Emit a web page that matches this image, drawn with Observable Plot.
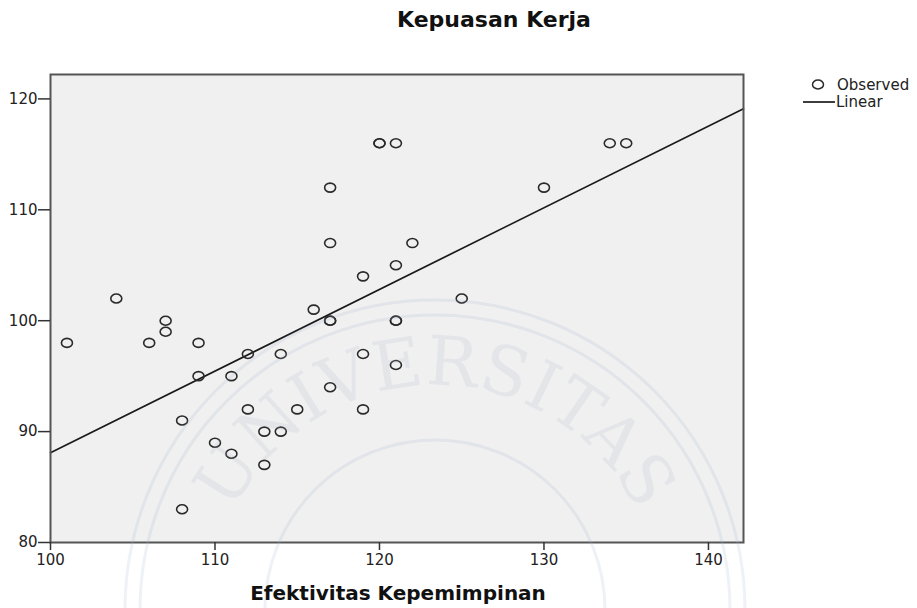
<!DOCTYPE html>
<html>
<head>
<meta charset="utf-8">
<script src="https://cdn.jsdelivr.net/npm/d3@7"></script>
<script src="https://cdn.jsdelivr.net/npm/@observablehq/plot@0.6"></script>
<style>
  html, body { margin: 0; padding: 0; background: #ffffff; }
  #wrap { position: relative; width: 917px; height: 608px; overflow: hidden; }
  #wrap > svg { position: absolute; left: 0; top: 0; }
  #overlay, #watermark { pointer-events: none; }
</style>
</head>
<body>
<div id="wrap"></div>
<script>
// ---- Data ----
const effectiveness = [101,104,106,107,107,108,108,109,109,110,111,111,112,112,113,113,114,114,115,116,
                       117,117,117,117,117,119,119,119,120,120,121,121,121,121,121,122,125,130,134,135];
const satisfaction  = [98,102,98,100,99,91,83,98,95,89,95,88,97,92,90,87,97,90,92,101,
                       112,107,100,100,94,104,97,92,116,116,116,105,100,100,96,107,102,112,116,116];
const fitIntercept = 14.5;
const fitSlope = 0.736;
const xTicks = [100, 110, 120, 130, 140];
const yTicks = [80, 90, 100, 110, 120];
const xDomain = [100, 142.13];
const yDomain = [80, 122.2];
const titleText = "Kepuasan Kerja";
const xTitle = "Efektivitas Kepemimpinan";
const legendLabels = ["Observed", "Linear"];
const watermarkText = "UNIVERSITAS";

const points = effectiveness.map((x, i) => ({x, y: satisfaction[i]}));
const fitLine = xDomain.map(x => ({x, y: fitIntercept + fitSlope * x}));

// Slightly oval open marker (SPSS style)
const ellipse = {
  draw(context) {
    const rx = 5.5, ry = 4.5, k = 0.5523;
    context.moveTo(rx, 0);
    context.bezierCurveTo(rx, k * ry, k * rx, ry, 0, ry);
    context.bezierCurveTo(-k * rx, ry, -rx, k * ry, -rx, 0);
    context.bezierCurveTo(-rx, -k * ry, -k * rx, -ry, 0, -ry);
    context.bezierCurveTo(k * rx, -ry, rx, -k * ry, rx, 0);
    context.closePath();
  }
};

const chart = Plot.plot({
  width: 917,
  height: 608,
  marginLeft: 50,
  marginTop: 74,
  marginRight: 174,
  marginBottom: 66,
  x: {domain: xDomain},
  y: {domain: yDomain},
  style: {fontFamily: "DejaVu Sans", fontSize: "15px", color: "#222", background: "transparent"},
  marks: [
    Plot.frame({fill: "#f0f0f0"}),
    Plot.line(fitLine, {x: "x", y: "y", stroke: "#1a1a1a", strokeWidth: 1.7}),
    Plot.dot(points, {x: "x", y: "y", symbol: ellipse, stroke: "#2a2a2a", strokeWidth: 1.6, fill: "none"}),
    Plot.frame({stroke: "#555", strokeWidth: 2}),
    Plot.axisX({ticks: xTicks, tickSize: 8, tickPadding: 4, label: null, stroke: "#333", strokeWidth: 1.5}),
    Plot.axisY({ticks: yTicks, tickSize: 12, tickPadding: 1, label: null, stroke: "#333", strokeWidth: 1.5})
  ]
});
document.getElementById("wrap").appendChild(chart);

// ---- Faint background watermark (as in the reference) ----
const wm = d3.select("#wrap").append("svg")
  .attr("id", "watermark")
  .attr("width", 917).attr("height", 608);
const cx = 435, cy = 610, rText = 225;
const wmColor = "#9fb0c8";
wm.append("defs").append("path")
  .attr("id", "wmArc")
  .attr("d", `M ${cx - rText * Math.sin(1.3)} ${cy - rText * Math.cos(1.3)} A ${rText} ${rText} 0 0 1 ${cx + rText * Math.sin(1.3)} ${cy - rText * Math.cos(1.3)}`);
wm.append("text")
  .attr("font-family", "DejaVu Serif").attr("font-size", 68)
  .attr("fill", wmColor).attr("fill-opacity", 0.16)
  .append("textPath")
  .attr("href", "#wmArc").attr("startOffset", "50%").attr("text-anchor", "middle")
  .text(watermarkText);
[295, 310, 170].forEach(r => {
  wm.append("circle").attr("cx", cx).attr("cy", cy).attr("r", r)
    .attr("fill", "none").attr("stroke", wmColor).attr("stroke-opacity", 0.18).attr("stroke-width", 3);
});

// ---- Overlay: title, axis title, legend ----
const svg = d3.select("#wrap").append("svg")
  .attr("id", "overlay")
  .attr("width", 917).attr("height", 608)
  .attr("font-family", "DejaVu Sans");

svg.append("text")
  .attr("x", 494).attr("y", 27)
  .attr("text-anchor", "middle")
  .attr("font-weight", "bold").attr("font-size", 22)
  .attr("fill", "#111")
  .text(titleText);

svg.append("text")
  .attr("x", 398).attr("y", 600)
  .attr("text-anchor", "middle")
  .attr("font-weight", "bold").attr("font-size", 20)
  .attr("fill", "#111")
  .text(xTitle);

const leg = svg.append("g");
leg.append("path")
  .attr("transform", "translate(818,84.5)")
  .attr("d", (() => { const p = d3.path(); ellipse.draw(p); return p.toString(); })())
  .attr("fill", "none").attr("stroke", "#2a2a2a").attr("stroke-width", 1.5);
leg.append("text").attr("x", 837).attr("y", 90).attr("font-size", 15).attr("fill", "#222").text(legendLabels[0]);
leg.append("line").attr("x1", 803).attr("x2", 835).attr("y1", 102).attr("y2", 102)
  .attr("stroke", "#1a1a1a").attr("stroke-width", 1.7);
leg.append("text").attr("x", 836).attr("y", 106.5).attr("font-size", 15).attr("fill", "#222").text(legendLabels[1]);
</script>
</body>
</html>
